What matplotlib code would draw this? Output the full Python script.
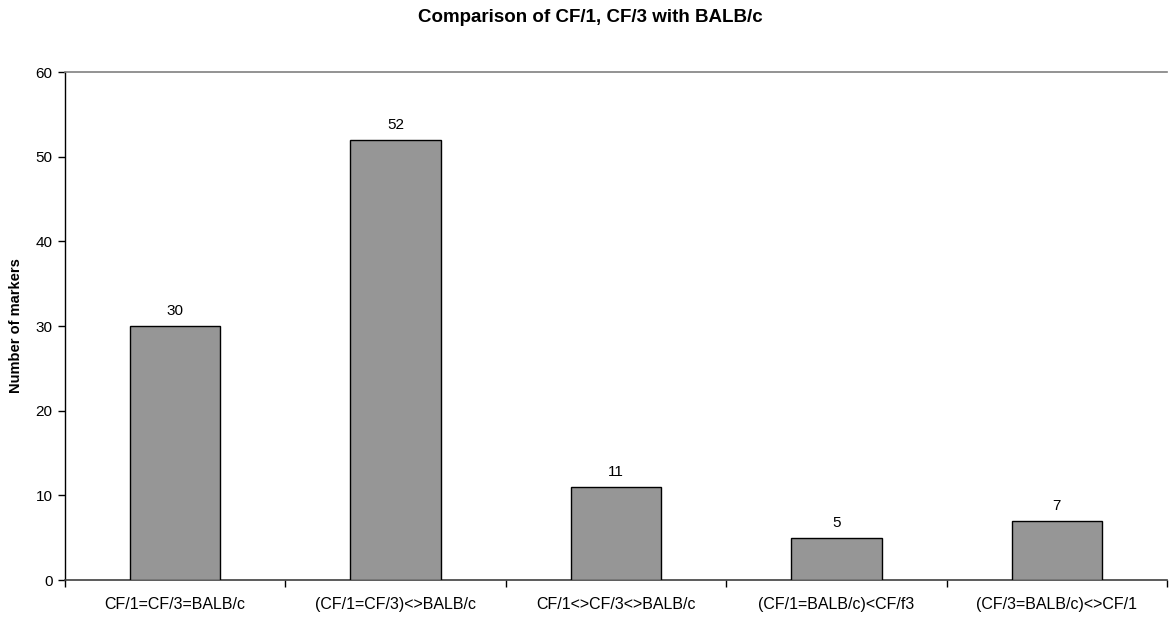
import matplotlib
matplotlib.use("Agg")
import matplotlib.pyplot as plt

plt.rcParams['font.family'] = ['Liberation Sans', 'DejaVu Sans']

categories = ["CF/1=CF/3=BALB/c", "(CF/1=CF/3)<>BALB/c", "CF/1<>CF/3<>BALB/c",
              "(CF/1=BALB/c)<CF/f3", "(CF/3=BALB/c)<>CF/1"]
values = [30, 52, 11, 5, 7]
y_ticks = [0, 10, 20, 30, 40, 50, 60]

fig = plt.figure(figsize=(11.69, 6.17), dpi=100)
ax = fig.add_axes([65 / 1169, 1 - 580 / 617, (1167 - 65) / 1169, (580 - 72) / 617])

x = list(range(len(categories)))
bars = ax.bar(x, values, width=0.41, color="#969696", edgecolor="black", linewidth=1.0, zorder=3)
for xi, v in zip(x, values):
    ax.text(xi, v + 0.9, str(v), ha="center", va="bottom", fontsize=11)

ax.set_xlim(-0.5, len(categories) - 0.5)
ax.set_ylim(0, 60)
ax.set_yticks(y_ticks)
ax.set_yticklabels([str(t) for t in y_ticks], fontsize=11)
ax.tick_params(axis="y", direction="out", length=5, width=1, pad=4)

# category labels centred, ticks at category boundaries
ax.set_xticks(x)
ax.set_xticklabels(categories, fontsize=11.5)
ax.tick_params(axis="x", which="major", length=0, pad=12)
ax.set_xticks([i - 0.5 for i in range(len(categories) + 1)], minor=True)
ax.tick_params(axis="x", which="minor", direction="out", length=5, width=1)

ax.spines["left"].set_color("black")
ax.spines["left"].set_linewidth(1.0)
ax.spines["bottom"].set_color("#404040")
ax.spines["bottom"].set_linewidth(1.2)
ax.spines["top"].set_color("#808080")
ax.spines["top"].set_linewidth(1.2)
ax.spines["right"].set_visible(False)

ax.set_ylabel("Number of markers", fontsize=10.5, fontweight="bold", labelpad=9)
fig.text(590 / 1169, 1 - 18 / 617, "Comparison of CF/1, CF/3 with BALB/c",
         ha="center", va="center", fontsize=13.5, fontweight="bold")

fig.savefig("out.png", dpi=100)
